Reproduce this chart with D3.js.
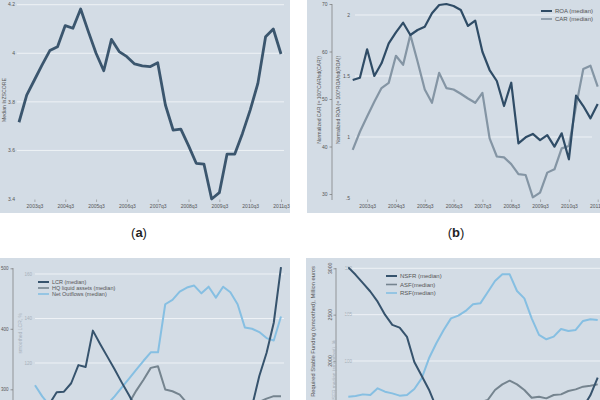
<!DOCTYPE html>
<html><head><meta charset="utf-8">
<script src="https://cdn.jsdelivr.net/npm/d3@7/dist/d3.min.js"></script>
<style>
body{margin:0;background:#fff;overflow:hidden}
svg{display:block}
text{font-family:"Liberation Sans",Arial,sans-serif}
</style>
</head><body>
<svg id="fig" width="600" height="400"></svg>
<script>
// ---------- data ----------
const quarters = ["2003q1","2003q2","2003q3","2003q4","2004q1","2004q2","2004q3","2004q4",
  "2005q1","2005q2","2005q3","2005q4","2006q1","2006q2","2006q3","2006q4",
  "2007q1","2007q2","2007q3","2007q4","2008q1","2008q2","2008q3","2008q4",
  "2009q1","2009q2","2009q3","2009q4","2010q1","2010q2","2010q3","2010q4",
  "2011q1","2011q2","2011q3"];
const xTickLabels = ["2003q3","2004q3","2005q3","2006q3","2007q3","2008q3","2009q3","2010q3","2011q3"];

// (a) median lnZSCORE
const zscore = [3.716,3.828,3.890,3.952,4.011,4.027,4.114,4.103,4.182,4.089,4.000,3.928,4.057,4.007,3.986,3.956,3.948,3.945,3.961,3.787,3.684,3.688,3.620,3.547,3.544,3.400,3.426,3.585,3.585,3.670,3.766,3.876,4.068,4.100,3.997];
const zTicks = [3.4,3.6,3.8,4,4.2];

// (b) ROA and CAR (normalized medians)
const roa = [1.467,1.486,1.719,1.500,1.604,1.768,1.858,1.937,1.836,1.877,1.904,2.014,2.082,2.090,2.074,2.041,1.910,1.954,1.699,1.549,1.459,1.254,1.445,0.948,0.997,1.025,0.975,1.016,0.921,1.030,0.817,1.339,1.254,1.153,1.270];
const car = [39.3,43.1,46.3,49.4,52.3,53.4,59.1,57.2,63.5,57.9,52.0,49.2,55.5,52.3,52.0,51.1,50.1,49.2,51.3,41.7,37.9,37.7,36.3,34.2,34.0,29.3,30.3,34.5,35.2,39.6,40.1,48.5,56.3,57.0,52.6];
const carTicks = [30,40,50,60,70];
const roaTicks = [0.5,1,1.5,2];
const roaTickLabels = [".5","1","1.5","2"];
const legendB = ["ROA (median)","CAR (median)"];

// (c) LCR, HQ liquid assets, Net outflows
const lcr = [262,266,276,295,296,310,340,337,397,375,354,333,311,290,268,250,240,232,228,225,222,220,218,218,220,225,230,238,248,258,272,322,360,410,502];
const hqla = [100,99,98,97,97,97,98,98,99,99,100,100,101,102,107.6,112.5,117.8,118.5,108.1,107.3,105.8,102,100,99,98,98,98,99,99,100,101,102.5,104,105.1,105.1];
const netOut = [110,105,101,98,96,95,95,96,97,99,101.5,105,109,113,117,121,124.8,124.8,146.4,148.4,152.1,153.9,154.8,151.3,154.3,149.4,154.3,151.8,146.4,136.0,135.4,133.9,131.2,130.1,140.9];
const lcrTicks = [300,400,500];
const idxTicks = [120,140,160];
const legendC = ["LCR (median)","HQ liquid assets (median)","Net Outflows (median)"];

// (d) NSFR, ASF, RSF
const nsfr = [110.1,109.3,108.4,107.5,106.4,105.0,103.9,103.6,102.6,99.9,98.4,96.9,95.0,93.5,92.0,91.0,90.0,89.0,88.5,88.0,88.0,88.0,88.5,89.0,89.5,90.0,90.5,91.0,92.0,93.0,93.5,94.0,95.0,96.3,98.2];
const asf = [1450,1440,1430,1420,1410,1400,1395,1390,1390,1395,1400,1410,1420,1440,1460,1480,1510,1530,1555,1579,1687,1748,1788,1748,1687,1604,1615,1597,1633,1640,1676,1694,1723,1734,1748];
const rsf = [1615,1622,1640,1633,1705,1669,1651,1626,1633,1698,1813,2029,2191,2335,2460,2489,2540,2612,2622,2741,2863,2935,2935,2755,2676,2460,2281,2234,2263,2345,2324,2335,2432,2450,2442];
const fundTicks = [2000,2500,3000];
const nsfrTicks = [100,105,110];
const legendD = ["NSFR (median)","ASF(median)","RSF(median)"];

// ---------- drawing ----------
const svg = d3.select("#fig");
const BG = "#d3dce5", GRID = "#eef2f6", TXT = "#555", FAINT = "#a7b1bb";
const DARK = "#36536d", MID = "#8495a4", LIGHT = "#86bfe2", GRAY2 = "#75848f";

function panel(x, y, w, h){
  svg.append("rect").attr("x",x).attr("y",y).attr("width",w).attr("height",h).attr("fill",BG);
}
function grid(g, scale, ticks, x0, x1){
  g.selectAll(null).data(ticks).join("line")
    .attr("x1",x0).attr("x2",x1)
    .attr("y1",d=>scale(d)).attr("y2",d=>scale(d))
    .attr("stroke",GRID).attr("stroke-width",1);
}
function lineOf(g, x, yS, vals, color, w){
  const gen = d3.line().x((d,i)=>x(quarters[i])).y(d=>yS(d));
  g.append("path").datum(vals).attr("d",gen).attr("fill","none")
    .attr("stroke",color).attr("stroke-width",w).attr("stroke-linejoin","round");
}
function xAxis(g, x, y){
  const ax = d3.axisBottom(x).tickValues(xTickLabels).tickSize(2.5).tickPadding(2.5);
  const a = g.append("g").attr("transform",`translate(0,${y})`).call(ax);
  a.select(".domain").remove();
  a.selectAll("line").attr("stroke","#888").attr("stroke-width",0.6);
  a.selectAll("text").attr("font-size",5).attr("fill",TXT).attr("font-family","Liberation Sans, Arial");
}
function legend(g, x, y, dy, labels, colors, widths, fs){
  labels.forEach((t,i)=>{
    g.append("line").attr("x1",x).attr("x2",x+11).attr("y1",y+i*dy).attr("y2",y+i*dy)
      .attr("stroke",colors[i]).attr("stroke-width",widths[i]);
    g.append("text").attr("x",x+14).attr("y",y+i*dy).attr("dy","0.35em")
      .attr("font-size",fs).attr("fill",TXT).text(t);
  });
}
function vtext(g, x, y, t, anchor, fs, color){
  g.append("text").attr("transform",`translate(${x},${y}) rotate(-90)`)
    .attr("text-anchor",anchor).attr("font-size",fs).attr("fill",color).attr("dy","0.35em").text(t);
}

// ---------- (a) ----------
{
  panel(0,0,290,213);
  const g = svg.append("g");
  const x = d3.scalePoint().domain(quarters).range([19,281]);
  const y = d3.scaleLinear().domain([3.4,4.2]).range([199,4.7]);
  grid(g, y, zTicks.filter(d=>d>3.4), 17, 284);
  g.selectAll(null).data(zTicks).join("text")
    .attr("x",15).attr("y",d=>y(d)).attr("dy","0.35em").attr("text-anchor","end")
    .attr("font-size",5).attr("fill",TXT).text(d=>d3.format("")(d));
  vtext(g, 4, 100, "Median lnZSCORE", "middle", 5.2, TXT);
  xAxis(g, x, 199.5);
  lineOf(g, x, y, zscore, "#3b566e", 2.8);
  svg.append("text").attr("x",139).attr("y",237).attr("text-anchor","middle")
    .attr("font-family","Liberation Serif, serif").attr("font-size",13).attr("fill","#222")
    .html('(<tspan font-weight="bold">a</tspan>)');
}

// ---------- (b) ----------
{
  panel(307,0,293,213);
  const g = svg.append("g");
  const x = d3.scalePoint().domain(quarters).range([352.7,597.7]);
  const yC = d3.scaleLinear().domain([30,70]).range([194,4]);
  const yR = d3.scaleLinear().domain([0.5,2]).range([198,15]);
  grid(g, yR, roaTicks.filter(d=>d>0.5), 355, 592);
  const ax = d3.axisLeft(yC).tickValues(carTicks).tickSize(2.5).tickPadding(2);
  const a = g.append("g").attr("transform","translate(332,0)").call(ax);
  a.select(".domain").attr("stroke","#777").attr("stroke-width",0.7).attr("d","M0,4V200");
  a.selectAll("line").attr("stroke","#777").attr("stroke-width",0.7);
  a.selectAll("text").attr("font-size",5).attr("fill",TXT);
  g.selectAll(null).data(roaTicks).join("text")
    .attr("x",350).attr("y",d=>yR(d)).attr("dy","0.35em").attr("text-anchor","end")
    .attr("font-size",5).attr("fill",TXT).text((d,i)=>roaTickLabels[i]);
  vtext(g, 319, 100, "Normalized CAR (= 100*CAR/sd(CAR))", "middle", 5, TXT);
  vtext(g, 338, 100, "Normalized ROA (= 100*ROA/sd(ROA))", "middle", 5, TXT);
  xAxis(g, x, 199.5);
  lineOf(g, x, yC, car, MID, 2.2);
  lineOf(g, x, yR, roa, "#2f4c66", 2.2);
  legend(g, 541, 11, 8, legendB, ["#2f4c66",MID], [2,1.6], 6);
  svg.append("text").attr("x",456).attr("y",237).attr("text-anchor","middle")
    .attr("font-family","Liberation Serif, serif").attr("font-size",13).attr("fill","#222")
    .html('(<tspan font-weight="bold">b</tspan>)');
}

// ---------- (c) ----------
{
  panel(0,258,290,160);
  const g = svg.append("g");
  const x = d3.scalePoint().domain(quarters).range([35,281]);
  const yL = d3.scaleLinear().domain([300,500]).range([389.3,268.3]);
  const yI = d3.scaleLinear().domain([120,160]).range([363,274]);
  grid(g, yI, idxTicks, 35, 284);
  const ax = d3.axisLeft(yL).tickValues(lcrTicks).tickSize(2.5).tickPadding(2);
  const a = g.append("g").attr("transform","translate(13,0)").call(ax);
  a.select(".domain").attr("stroke","#777").attr("stroke-width",0.7).attr("d","M0,268V420");
  a.selectAll("line").attr("stroke","#777").attr("stroke-width",0.7);
  a.selectAll("text").attr("font-size",4.5).attr("fill",TXT);
  g.selectAll(null).data(idxTicks).join("text")
    .attr("x",32).attr("y",d=>yI(d)).attr("dy","0.35em").attr("text-anchor","end")
    .attr("font-size",4.5).attr("fill",FAINT).text(d=>d);
  vtext(g, 20, 313, "smoothed LCR, %", "end", 5, FAINT);
  lineOf(g, x, yI, netOut, LIGHT, 2);
  lineOf(g, x, yI, hqla, GRAY2, 2);
  lineOf(g, x, yL, lcr, DARK, 2);
  legend(g, 38, 282, 6, legendC, [DARK,GRAY2,LIGHT], [2,1.6,1.6], 5.5);
}

// ---------- (d) ----------
{
  panel(306,258,294,160);
  const g = svg.append("g");
  const x = d3.scalePoint().domain(quarters).range([348.3,597.7]);
  const yF = d3.scaleLinear().domain([2000,3000]).range([361,268.3]);
  const yN = d3.scaleLinear().domain([100,110]).range([361,268.3]);
  grid(g, yF, fundTicks, 345, 600);
  const ax = d3.axisLeft(yF).tickValues(fundTicks).tickSize(2.5).tickFormat(()=>"");
  const a = g.append("g").attr("transform","translate(336,0)").call(ax);
  a.select(".domain").attr("stroke","#777").attr("stroke-width",0.7).attr("d","M0,268V420");
  a.selectAll("line").attr("stroke","#777").attr("stroke-width",0.7);
  fundTicks.forEach(v=>vtext(g, 330.5, yF(v), String(v), "middle", 5.2, TXT));
  g.selectAll(null).data(nsfrTicks).join("text")
    .attr("x",352).attr("y",d=>yN(d)).attr("dy","0.35em").attr("text-anchor","end")
    .attr("font-size",4.5).attr("fill",FAINT).text(d=>d);
  vtext(g, 313, 266, "Required Stable Funding (smoothed), Million euros", "end", 5.8, TXT);
  vtext(g, 334, 340, "NSFR median (smoothed), %", "end", 4.8, FAINT);
  lineOf(g, x, yF, rsf, LIGHT, 2);
  lineOf(g, x, yF, asf, GRAY2, 2);
  lineOf(g, x, yN, nsfr, DARK, 2);
  legend(g, 386, 276, 8.5, legendD, [DARK,GRAY2,LIGHT], [2,1.6,1.6], 6);
}
</script>
</body></html>
